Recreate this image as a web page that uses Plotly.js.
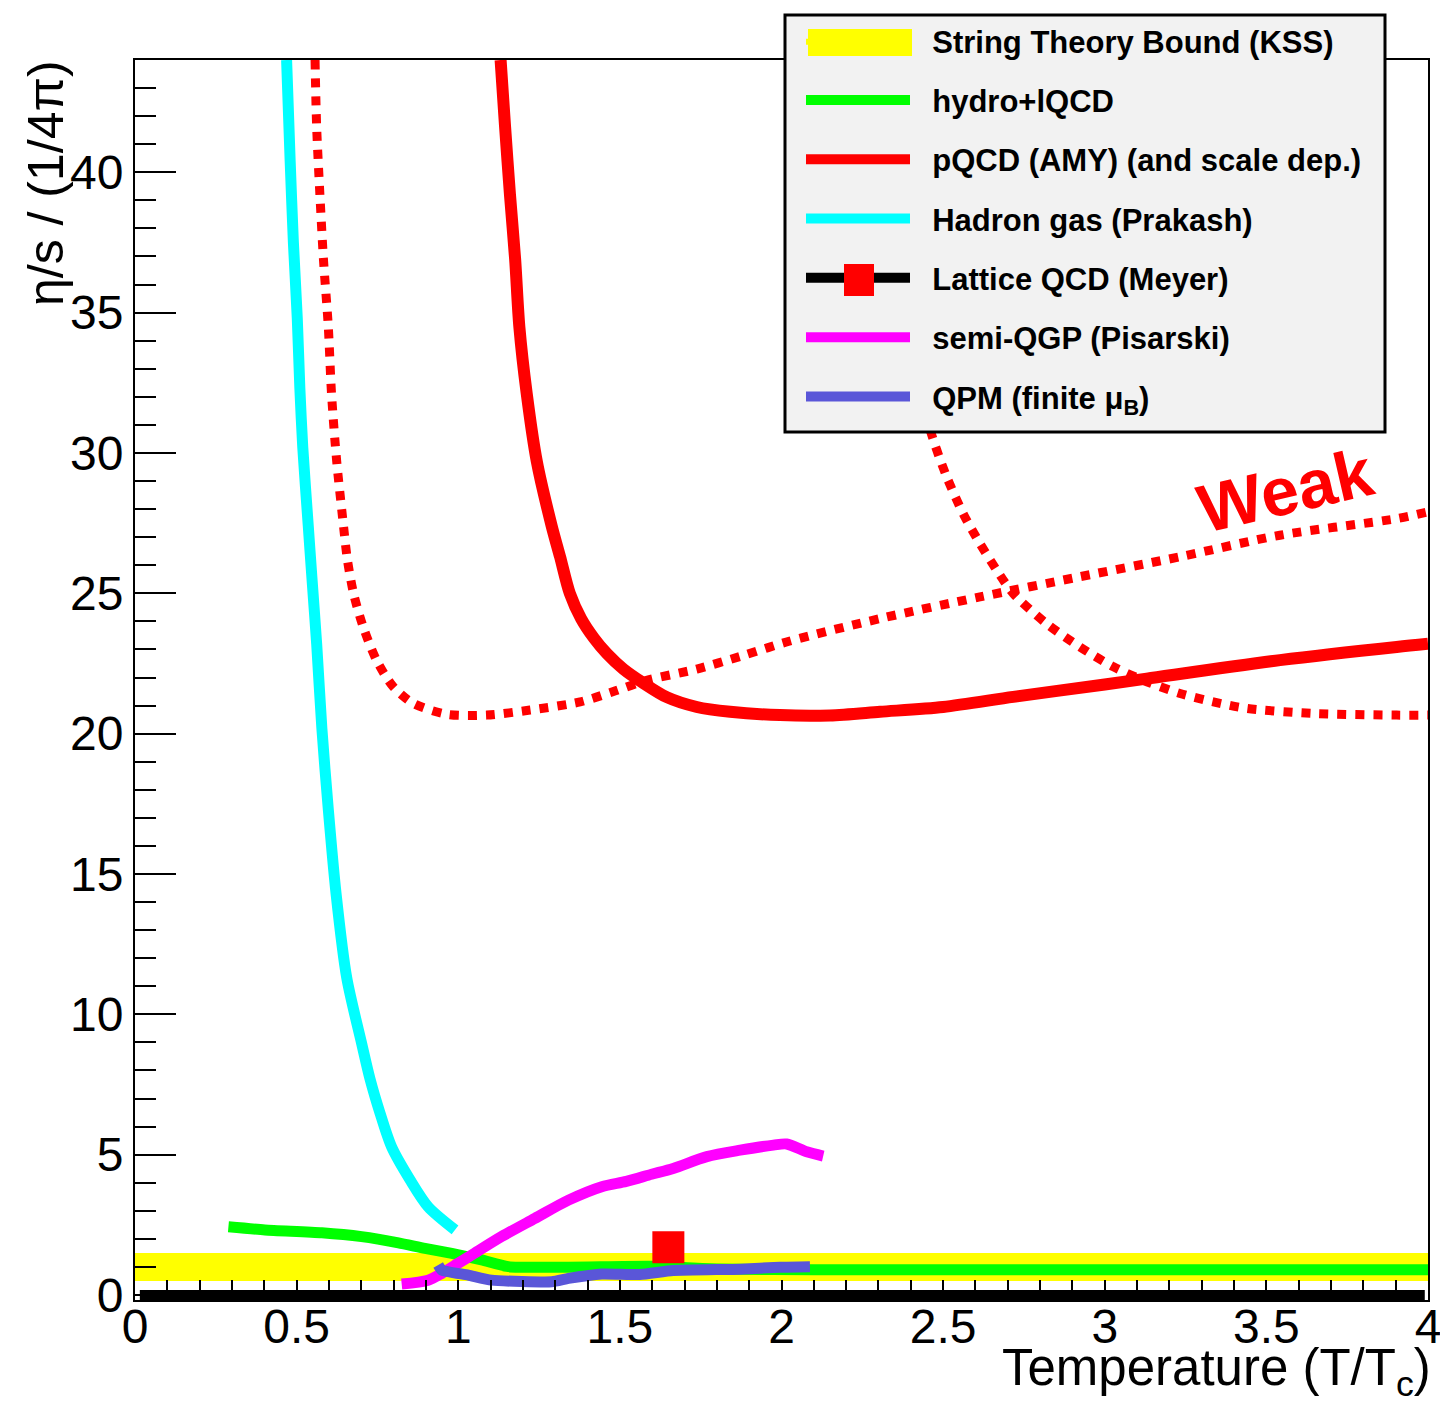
<!DOCTYPE html>
<html>
<head>
<meta charset="utf-8">
<script src="https://cdn.plot.ly/plotly-3.0.1.min.js"></script>
<style>html,body{margin:0;padding:0;background:#fff;}#chart{width:1440px;height:1407px;}</style>
</head>
<body>
<div id="chart"></div>
<script>
// ---- data ----
var kssX = [0, 4];
var kssLow = 0.5;
var kssHigh = 1.5;

var hydroX = [0.289, 0.402, 0.578, 0.701, 0.815, 0.897, 0.980, 1.072, 1.155, 1.341, 1.598, 1.8, 2.1, 4.0];
var hydroY = [2.43, 2.32, 2.22, 2.08, 1.86, 1.66, 1.48, 1.25, 1.01, 0.99, 1.02, 0.93, 0.90, 0.90];

var pqcdX = [1.131, 1.145, 1.160, 1.176, 1.189, 1.212, 1.243, 1.289, 1.315, 1.345, 1.38, 1.42, 1.46, 1.511, 1.573, 1.645, 1.738, 1.841, 1.995, 2.15, 2.305, 2.5, 2.717, 3.0, 3.130, 3.542, 3.903, 4.0];
var pqcdY = [44, 41.6, 39.2, 36.9, 34.5, 32.1, 29.7, 27.4, 26.3, 25.0, 24.1, 23.4, 22.85, 22.3, 21.8, 21.3, 20.95, 20.78, 20.66, 20.65, 20.78, 20.95, 21.31, 21.75, 21.96, 22.62, 23.09, 23.2];

var pqcdLowX = [0.557, 0.562, 0.572, 0.583, 0.598, 0.608, 0.624, 0.645, 0.657, 0.676, 0.706, 0.748, 0.799, 0.861, 0.964, 1.088, 1.222, 1.377, 1.480, 1.583, 1.738, 1.872, 2.026, 2.305, 2.614, 2.923, 3.233, 3.542, 3.903, 4.0];
var pqcdLowY = [44, 41.6, 39.2, 36.9, 34.5, 32.1, 29.7, 27.4, 26.2, 25.0, 23.8, 22.6, 21.67, 21.08, 20.69, 20.66, 20.84, 21.13, 21.5, 21.9, 22.3, 22.75, 23.3, 24.10, 24.87, 25.59, 26.30, 27.07, 27.66, 27.9];

var pqcdHighX = [2.23, 2.29, 2.37, 2.465, 2.511, 2.562, 2.614, 2.666, 2.717, 2.820, 2.923, 3.027, 3.130, 3.233, 3.336, 3.439, 3.645, 3.903, 4.0];
var pqcdHighY = [44, 39.2, 34.5, 30.63, 29.15, 27.84, 26.77, 25.82, 24.99, 23.92, 23.09, 22.38, 21.85, 21.43, 21.13, 20.90, 20.72, 20.66, 20.66];

var hadronX = [0.469, 0.480, 0.490, 0.502, 0.510, 0.519, 0.536, 0.547, 0.562, 0.578, 0.598, 0.622, 0.655, 0.701, 0.727, 0.758, 0.794, 0.851, 0.907, 0.990];
var hadronY = [44, 40.4, 37.5, 34.8, 32.3, 30.2, 27.4, 25.6, 23.2, 20.2, 17.3, 14.3, 11.3, 8.97, 7.7, 6.48, 5.27, 4.10, 3.14, 2.32];

var latticeX = [1.65];
var latticeY = [1.70];
var baseX = [0.015, 3.99];
var baseY = [0, 0];

var sqgpX = [0.825, 0.907, 0.949, 1.0, 1.041, 1.134, 1.237, 1.341, 1.444, 1.52, 1.598, 1.665, 1.769, 1.872, 1.975, 2.016, 2.078, 2.129];
var sqgpY = [0.39, 0.53, 0.77, 1.13, 1.42, 2.08, 2.73, 3.38, 3.86, 4.05, 4.3, 4.51, 4.93, 5.16, 5.34, 5.38, 5.10, 4.95];

var qpmX = [0.938, 0.949, 1.031, 1.103, 1.289, 1.341, 1.444, 1.562, 1.665, 1.872, 1.995, 2.088];
var qpmY = [1.07, 0.89, 0.71, 0.53, 0.47, 0.59, 0.75, 0.73, 0.87, 0.92, 0.99, 1.01];

var legendNames = ['String Theory Bound (KSS)', 'hydro+lQCD', 'pQCD (AMY) (and scale dep.)', 'Hadron gas (Prakash)', 'Lattice QCD (Meyer)', 'semi-QGP (Pisarski)', 'QPM (finite μ<sub>B</sub>)'];
var xTickVals = [0, 0.5, 1, 1.5, 2, 2.5, 3, 3.5, 4];
var xTickText = ['0', '0.5', '1', '1.5', '2', '2.5', '3', '3.5', '4'];
var yTickVals = [0, 5, 10, 15, 20, 25, 30, 35, 40];
var yTickText = ['0', '5', '10', '15', '20', '25', '30', '35', '40'];

// ---- traces ----
var RED = '#ff0000';
var GAP = '\u00a0\u00a0';
var traces = [
  {x: [kssX[0], kssX[1], kssX[1], kssX[0]], y: [kssLow, kssLow, kssHigh, kssHigh], mode: 'lines', fill: 'toself',
   fillcolor: '#ffff00', line: {width: 0, color: '#ffff00'}, name: GAP + legendNames[0], legendgroup: 'g0', legendrank: 1000, hoverinfo: 'skip'},
  {x: baseX, y: baseY, mode: 'lines', line: {color: '#000000', width: 10}, showlegend: false, hoverinfo: 'skip'},
  {x: pqcdLowX, y: pqcdLowY, mode: 'lines', line: {color: RED, width: 9, dash: 'dot', shape: 'spline', smoothing: 0.8}, showlegend: false},
  {x: pqcdHighX, y: pqcdHighY, mode: 'lines', line: {color: RED, width: 9, dash: 'dot', shape: 'spline', smoothing: 0.8}, showlegend: false},
  {x: hydroX, y: hydroY, mode: 'lines', line: {color: '#00ff00', width: 11, shape: 'spline', smoothing: 0.6}, name: GAP + legendNames[1], legendgroup: 'g1', legendrank: 1001},
  {x: pqcdX, y: pqcdY, mode: 'lines', line: {color: RED, width: 12, shape: 'spline', smoothing: 0.8}, name: GAP + legendNames[2], legendgroup: 'g2', legendrank: 1002},
  {x: hadronX, y: hadronY, mode: 'lines', line: {color: '#00ffff', width: 11, shape: 'spline', smoothing: 0.8}, name: GAP + legendNames[3], legendgroup: 'g3', legendrank: 1003},
  {x: sqgpX, y: sqgpY, mode: 'lines', line: {color: '#ff00ff', width: 11, shape: 'spline', smoothing: 0.8}, name: GAP + legendNames[5], legendgroup: 'g5', legendrank: 1006},
  {x: qpmX, y: qpmY, mode: 'lines', line: {color: '#5a56d8', width: 11, shape: 'spline', smoothing: 0.5}, name: GAP + legendNames[6], legendgroup: 'g6', legendrank: 1007},
  {x: latticeX, y: latticeY, mode: 'lines+markers', line: {color: '#000000', width: 10},
   marker: {symbol: 'square', size: 32, color: RED, line: {width: 0}}, name: GAP + legendNames[4], legendgroup: 'g4', legendrank: 1005}
];

var FONT = 'Liberation Sans, Arial, Helvetica, sans-serif';
// pixel helpers for legend decoration (plot area: left 135, width 1293; bottom 1300, height 1240)
function px(xp) { return (xp - 135) / 1293; }
function py(yp) { return (1300 - yp) / 1240; }

var layout = {
  width: 1440, height: 1407,
  margin: {l: 135, r: 12, t: 60, b: 107},
  paper_bgcolor: '#ffffff', plot_bgcolor: '#ffffff',
  font: {family: FONT, color: '#000000'},
  showlegend: true,
  legend: {
    x: px(801), y: py(14), xanchor: 'left', yanchor: 'top',
    bgcolor: 'rgba(0,0,0,0)', borderwidth: 0,
    font: {family: FONT, size: 31, color: '#000000', weight: 700},
    itemwidth: 104, tracegroupgap: 16, traceorder: 'grouped'
  },
  shapes: [
    {type: 'rect', xref: 'paper', yref: 'paper', x0: px(785), x1: px(1385), y0: py(432), y1: py(15),
     fillcolor: '#f2f2f2', line: {color: '#000000', width: 3}, layer: 'above'},
    {type: 'rect', xref: 'paper', yref: 'paper', x0: px(808), x1: px(912), y0: py(56), y1: py(29),
     fillcolor: '#ffff00', line: {width: 0}, layer: 'above'}
  ],
  xaxis: {
    range: [0, 4], tickmode: 'array', tickvals: xTickVals, ticktext: xTickText,
    ticks: 'inside', ticklen: 20, tickwidth: 2, tickcolor: '#000000',
    showline: true, linecolor: '#000000', linewidth: 2, mirror: true,
    showgrid: false, zeroline: false, ticklabeloverflow: 'allow', ticklabelstandoff: -17,
    tickfont: {family: FONT, size: 48, color: '#000000'},
    minor: {dtick: 0.1, tick0: 0, ticks: 'inside', ticklen: 20, tickwidth: 2, tickcolor: '#000000', showgrid: false}
  },
  yaxis: {
    range: [-0.178, 44], tickmode: 'array', tickvals: yTickVals, ticktext: yTickText,
    ticks: 'inside', ticklen: 41, tickwidth: 2, tickcolor: '#000000',
    showline: true, linecolor: '#000000', linewidth: 2, mirror: true,
    showgrid: false, zeroline: false,
    tickfont: {family: FONT, size: 48, color: '#000000'},
    minor: {dtick: 1, tick0: 0, ticks: 'inside', ticklen: 21, tickwidth: 2, tickcolor: '#000000', showgrid: false}
  },
  annotations: [
    {text: 'η/s / (1/4π)', xref: 'paper', yref: 'paper', x: px(46), y: py(58), xanchor: 'center', yanchor: 'top',
     textangle: -90, showarrow: false, font: {family: FONT, size: 50, color: '#000000'}},
    {text: 'Temperature (T/T<sub>c</sub>)', xref: 'paper', yref: 'paper', x: px(1433), y: py(1406), xanchor: 'right', yanchor: 'bottom',
     showarrow: false, font: {family: FONT, size: 51, color: '#000000'}},
    {text: 'Weak', xref: 'x', yref: 'y', x: 3.558, y: 28.67, xanchor: 'center', yanchor: 'middle',
     textangle: -13, showarrow: false, font: {family: FONT, size: 68, color: RED, weight: 700}},
    {text: ' ', xref: 'paper', yref: 'paper', x: px(859), y: py(280), xanchor: 'center', yanchor: 'middle',
     width: 30, height: 32, bgcolor: RED, borderpad: 0, borderwidth: 0, showarrow: false, font: {size: 10}}
  ]
};

Plotly.newPlot('chart', traces, layout, {displayModeBar: false, staticPlot: true});
</script>
</body>
</html>
